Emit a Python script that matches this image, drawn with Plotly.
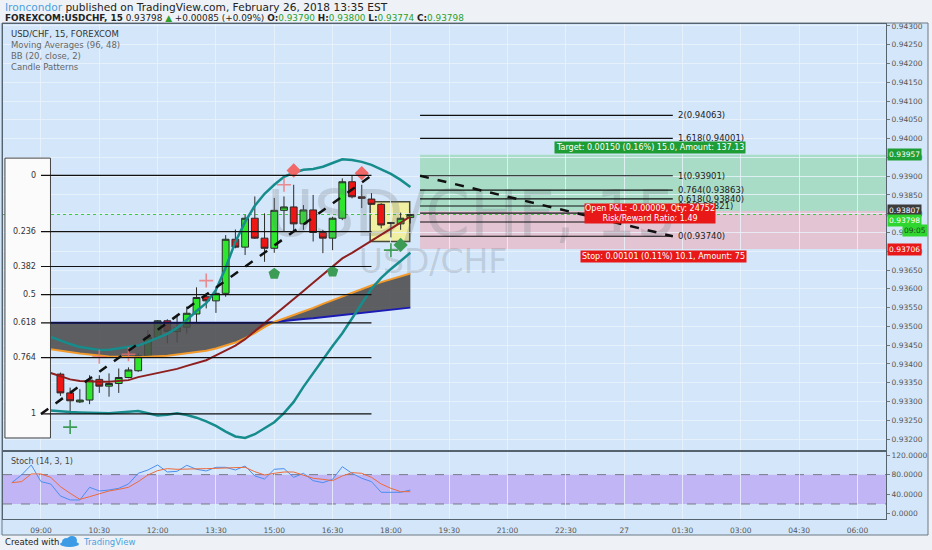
import plotly.graph_objects as go
import pandas as pd

# ---------------- data ----------------
candle_start = "2018-02-26 09:30"
open_ = [0.93373, 0.93323, 0.93299, 0.93304, 0.93359, 0.93341, 0.93348, 0.93364, 0.93382, 0.93422,
         0.93471, 0.93515, 0.93486, 0.93498, 0.93533, 0.93579, 0.93568, 0.93588, 0.93732, 0.93711,
         0.93788, 0.93735, 0.93708, 0.93809, 0.93818, 0.93773, 0.93810, 0.93750, 0.93735, 0.93788,
         0.93885, 0.93845, 0.93839, 0.93825, 0.93774, 0.93773, 0.93790]
high = [0.93377, 0.93337, 0.93333, 0.93370, 0.93370, 0.93375, 0.93388, 0.93391, 0.93429, 0.93490,
        0.93517, 0.93519, 0.93531, 0.93553, 0.93604, 0.93588, 0.93605, 0.93743, 0.93758, 0.93797,
        0.93846, 0.93801, 0.93842, 0.93846, 0.93877, 0.93823, 0.93850, 0.93757, 0.93792, 0.93894,
        0.93902, 0.93877, 0.93855, 0.93828, 0.93778, 0.93803, 0.93800]
low = [0.93315, 0.93267, 0.93296, 0.93293, 0.93323, 0.93313, 0.93323, 0.93362, 0.93379, 0.93419,
       0.93469, 0.93455, 0.93457, 0.93481, 0.93510, 0.93548, 0.93536, 0.93579, 0.93708, 0.93690,
       0.93733, 0.93672, 0.93696, 0.93752, 0.93752, 0.93757, 0.93726, 0.93695, 0.93703, 0.93783,
       0.93841, 0.93815, 0.93824, 0.93761, 0.93737, 0.93757, 0.93774]
close = [0.93323, 0.93302, 0.93304, 0.93357, 0.93341, 0.93348, 0.93364, 0.93384, 0.93422, 0.93471,
         0.93515, 0.93486, 0.93496, 0.93535, 0.93577, 0.93568, 0.93588, 0.93732, 0.93711, 0.93788,
         0.93735, 0.93708, 0.93809, 0.93818, 0.93773, 0.93810, 0.93750, 0.93735, 0.93788, 0.93885,
         0.93845, 0.93841, 0.93825, 0.93770, 0.93776, 0.93788, 0.93798]

line_start = "2018-02-26 09:15"
bb_upper = [0.93472, 0.93462, 0.93453, 0.93445, 0.93440, 0.93437, 0.93438, 0.93441, 0.93444, 0.93449,
            0.93459, 0.93469, 0.93480, 0.93496, 0.93517, 0.93541, 0.93562, 0.93597, 0.93656, 0.93725,
            0.93778, 0.93821, 0.93853, 0.93877, 0.93898, 0.93909, 0.93917, 0.93919, 0.93925, 0.93935,
            0.93945, 0.93943, 0.93938, 0.93930, 0.93919, 0.93906, 0.93890, 0.93871]
bb_basis = [0.93376, 0.93367, 0.93359, 0.93355, 0.93353, 0.93353, 0.93353, 0.93354, 0.93357, 0.93365,
            0.93370, 0.93376, 0.93381, 0.93387, 0.93395, 0.93402, 0.93410, 0.93423, 0.93436, 0.93449,
            0.93466, 0.93487, 0.93508, 0.93529, 0.93550, 0.93572, 0.93594, 0.93616, 0.93638, 0.93660,
            0.93681, 0.93696, 0.93712, 0.93728, 0.93743, 0.93758, 0.93776, 0.93793]
bb_lower = [0.93276, 0.93273, 0.93272, 0.93271, 0.93270, 0.93269, 0.93269, 0.93271, 0.93273, 0.93275,
            0.93269, 0.93263, 0.93265, 0.93269, 0.93264, 0.93257, 0.93247, 0.93235, 0.93220, 0.93207,
            0.93203, 0.93213, 0.93229, 0.93245, 0.93269, 0.93299, 0.93339, 0.93376, 0.93411, 0.93448,
            0.93482, 0.93522, 0.93562, 0.93600, 0.93629, 0.93653, 0.93674, 0.93696]
ma96 = [0.93510, 0.93510, 0.93510, 0.93510, 0.93510, 0.93510, 0.93510, 0.93510, 0.93509, 0.93509,
        0.93509, 0.93509, 0.93509, 0.93509, 0.93509, 0.93509, 0.93509, 0.93509, 0.93509, 0.93509,
        0.93509, 0.93509, 0.93510, 0.93512, 0.93515, 0.93517, 0.93520, 0.93522, 0.93525, 0.93528,
        0.93531, 0.93533, 0.93536, 0.93540, 0.93542, 0.93545, 0.93548, 0.93550]
ma48 = [0.93439, 0.93435, 0.93431, 0.93428, 0.93425, 0.93422, 0.93420, 0.93419, 0.93418, 0.93418,
        0.93419, 0.93420, 0.93422, 0.93425, 0.93428, 0.93431, 0.93435, 0.93441, 0.93449, 0.93457,
        0.93469, 0.93482, 0.93498, 0.93512, 0.93521, 0.93530, 0.93540, 0.93549, 0.93560, 0.93570,
        0.93581, 0.93590, 0.93600, 0.93609, 0.93618, 0.93625, 0.93633, 0.93641]

stoch_start = "2018-02-26 08:15"
stoch_k = [63.6, 79.3, 99.8, 65.7, 60.9, 36.4, 28.2, 28.2, 54.1, 46.6, 48.6, 52.0, 60.9, 82.7,
           89.5, 99.8, 85.4, 86.8, 99.1, 90.9, 87.5, 95.0, 95.0, 89.5, 97.7, 77.3, 71.1, 90.9,
           92.3, 74.5, 82.7, 67.7, 63.6, 70.4, 96.3, 82.7, 72.5, 65.7, 43.9, 43.9, 43.9, 48.6]
stoch_d = [63.6, 65.7, 81.4, 81.4, 74.5, 55.5, 41.8, 29.5, 35.0, 40.5, 46.6, 50.0, 54.1, 65.7,
           79.3, 88.2, 92.3, 90.9, 90.9, 92.3, 92.3, 92.9, 93.6, 93.6, 95.0, 86.1, 79.3, 82.7,
           85.4, 85.4, 79.3, 72.5, 70.4, 67.7, 77.3, 84.1, 82.7, 74.5, 60.9, 52.0, 45.2, 45.2]

# candle pattern markers
plus_green_t = ["2018-02-26 09:45", "2018-02-26 18:00"]
plus_green_p = [0.93232, 0.93703]
plus_red_t = ["2018-02-26 10:30", "2018-02-26 11:15", "2018-02-26 13:15", "2018-02-26 15:15"]
plus_red_p = [0.93419, 0.93426, 0.93622, 0.93877]
diamond_red_t = ["2018-02-26 15:30", "2018-02-26 17:15"]
diamond_red_p = [0.93915, 0.93908]
diamond_green_t = ["2018-02-26 18:15"]
diamond_green_p = [0.93717]
house_green_t = ["2018-02-26 15:00", "2018-02-26 16:30"]
house_green_p = [0.93640, 0.93646]

# fib retracement
fib_ret_levels = [0, 0.236, 0.382, 0.5, 0.618, 0.764, 1]
fib_ret_labels = ["0", "0.236", "0.382", "0.5", "0.618", "0.764", "1"]
fib_ret_p0 = 0.93902   # level 0
fib_ret_p1 = 0.93267   # level 1
fib_ret_t0, fib_ret_t1 = "2018-02-26 09:00", "2018-02-26 17:30"

# fib extension
fib_ext_levels = [0, 0.236, 0.382, 0.5, 0.618, 0.764, 1, 1.618, 2]
fib_ext_labels = ["0(0.93740)", "", "", "0.5(0.93821)", "0.618(0.93840)", "0.764(0.93863)",
                  "1(0.93901)", "1.618(0.94001)", "2(0.94063)"]
fib_ext_base, fib_ext_one = 0.93740, 0.93901
fib_ext_t0, fib_ext_t1 = "2018-02-26 18:45", "2018-02-27 01:15"

# long position
pos_t0 = "2018-02-26 18:45"
entry, target, stop = 0.93807, 0.93957, 0.93706
target_text = "Target: 0.00150 (0.16%) 15.0, Amount: 137.13"
pnl_text = "Open P&L: -0.00009, Qty: 24752<br>Risk/Reward Ratio: 1.49"
stop_text = "Stop: 0.00101 (0.11%) 10.1, Amount: 75"

# highlight box
box_t = ["2018-02-26 17:28", "2018-02-26 18:29"]
box_p = [0.93726, 0.93832]

# quote header
sym = "FOREXCOM:USDCHF, 15"
last, chg, chg_pct = "0.93798", "+0.00085", "+0.09%"
o_, h_, l_, c_ = "0.93790", "0.93800", "0.93774", "0.93798"

x_range = ["2018-02-26 08:01:24", "2018-02-27 06:44:00"]
tick_times = pd.date_range("2018-02-26 09:00", periods=15, freq="90min")
tick_text = ["09:00", "10:30", "12:00", "13:30", "15:00", "16:30", "18:00", "19:30",
             "21:00", "22:30", "27", "01:30", "03:00", "04:30", "06:00"]
price_ticks = [round(0.932 + 0.0005 * i, 5) for i in range(23)]
stoch_ticks = [0, 40, 80, 120]

# ---------------- layout helpers ----------------
W, H = 932, 550
ML, MR, MT, MB = 3, 46, 24, 31
PW, PH = W - ML - MR, H - MT - MB


def px(x):
    return (x - ML) / PW


def py(y):
    return (H - MB - y) / PH


ct = pd.date_range(candle_start, periods=len(open_), freq="15min")
lt = pd.date_range(line_start, periods=len(bb_basis), freq="15min")
st = pd.date_range(stoch_start, periods=len(stoch_k), freq="15min")

FONT = "DejaVu Sans"
BG = "#d4e7fa"
PAGE = "#eef2f6"
WM = "rgba(110,115,125,0.24)"

fig = go.Figure()

# watermark (as text traces, drawn first)
fig.add_trace(go.Scatter(x=["2018-02-26 20:05"], y=[0.93783], mode="text", text=["USD/CHF, 15"],
                         textfont=dict(family="DejaVu Sans", size=64, color=WM),
                         hoverinfo="skip", showlegend=False))
fig.add_trace(go.Scatter(x=["2018-02-26 19:05"], y=[0.93664], mode="text", text=["USD/CHF"],
                         textfont=dict(family="DejaVu Sans", size=33, color=WM),
                         hoverinfo="skip", showlegend=False))

# moving averages with fill
fig.add_trace(go.Scatter(x=lt, y=ma96, mode="lines", line=dict(color="#1a1ab4", width=2),
                         hoverinfo="skip", showlegend=False))
fig.add_trace(go.Scatter(x=lt, y=ma48, mode="lines", line=dict(color="#f39a2c", width=2),
                         fill="tonexty", fillcolor="rgba(75,75,75,0.88)", hoverinfo="skip", showlegend=False))
# bollinger
for arr, col, w in [(bb_upper, "#178c8c", 2.5), (bb_lower, "#178c8c", 2.5), (bb_basis, "#8e1f1f", 2)]:
    fig.add_trace(go.Scatter(x=lt, y=arr, mode="lines", line=dict(color=col, width=w),
                             hoverinfo="skip", showlegend=False))

fig.add_trace(go.Candlestick(x=ct, open=open_, high=high, low=low, close=close,
                             increasing=dict(line=dict(color="#2a2a2a", width=1), fillcolor="#2fe62f"),
                             decreasing=dict(line=dict(color="#2a2a2a", width=1), fillcolor="#ee1515"),
                             whiskerwidth=0, showlegend=False, hoverinfo="skip"))

# pattern markers
fig.add_trace(go.Scatter(x=plus_red_t, y=plus_red_p, mode="markers",
                         marker=dict(symbol="cross-thin", size=10, line=dict(color="rgba(240,110,110,0.75)", width=1.6)),
                         hoverinfo="skip", showlegend=False))
fig.add_trace(go.Scatter(x=plus_green_t, y=plus_green_p, mode="markers",
                         marker=dict(symbol="cross-thin", size=10, line=dict(color="#3c9c55", width=1.6)),
                         hoverinfo="skip", showlegend=False))
fig.add_trace(go.Scatter(x=diamond_red_t, y=diamond_red_p, mode="markers",
                         marker=dict(symbol="diamond", size=11, color="#f06868"),
                         hoverinfo="skip", showlegend=False))
fig.add_trace(go.Scatter(x=diamond_green_t, y=diamond_green_p, mode="markers",
                         marker=dict(symbol="diamond", size=11, color="#3c9c55"),
                         hoverinfo="skip", showlegend=False))
fig.add_trace(go.Scatter(x=house_green_t, y=house_green_p, mode="markers",
                         marker=dict(symbol="pentagon", size=12, color="#3c9c55"),
                         hoverinfo="skip", showlegend=False))

# stochastic
fig.add_trace(go.Scatter(x=st, y=stoch_k, mode="lines", line=dict(color="#4a8ef0", width=1),
                         xaxis="x2", yaxis="y2", hoverinfo="skip", showlegend=False))
fig.add_trace(go.Scatter(x=st, y=stoch_d, mode="lines", line=dict(color="#ee6a3a", width=1),
                         xaxis="x2", yaxis="y2", hoverinfo="skip", showlegend=False))

shapes = []
# page bands
shapes.append(dict(type="rect", xref="paper", yref="paper", x0=px(-5), x1=px(940), y0=py(23), y1=py(-5),
                   fillcolor=PAGE, line=dict(width=0), layer="below"))
shapes.append(dict(type="rect", xref="paper", yref="paper", x0=px(-5), x1=px(940), y0=py(560), y1=py(535),
                   fillcolor=PAGE, line=dict(width=0), layer="below"))
shapes.append(dict(type="rect", xref="paper", yref="paper", x0=px(928), x1=px(940), y0=py(560), y1=py(-5),
                   fillcolor=PAGE, line=dict(width=0), layer="below"))
shapes.append(dict(type="rect", xref="paper", yref="paper", x0=px(2), x1=px(928), y0=py(535), y1=py(23),
                   fillcolor="rgba(0,0,0,0)", line=dict(color="#6a7884", width=1), layer="below"))
# tradingview logo (simple cloud)
for cx0, cy0, cx1, cy1 in [(62, 538, 71, 546), (67, 536, 77, 545), (60, 541, 79, 547)]:
    shapes.append(dict(type="circle", xref="paper", yref="paper", x0=px(cx0), x1=px(cx1), y0=py(cy1), y1=py(cy0),
                       fillcolor="#3d9be6", line=dict(width=0), layer="below"))

# position tool
shapes.append(dict(type="rect", xref="x", yref="y", x0=pos_t0, x1=x_range[1], y0=entry, y1=target,
                   fillcolor="#a8dcc6", line=dict(width=0), layer="below"))
shapes.append(dict(type="rect", xref="x", yref="y", x0=pos_t0, x1=x_range[1], y0=stop, y1=entry,
                   fillcolor="#e3c4d3", line=dict(width=0), layer="below"))
# highlight box
shapes.append(dict(type="rect", xref="x", yref="y", x0=box_t[0], x1=box_t[1], y0=box_p[0], y1=box_p[1],
                   fillcolor="#f1efa2", line=dict(color="#4a4a3a", width=1.5), layer="below"))
# last price line
shapes.append(dict(type="line", xref="x", yref="y", x0=x_range[0], x1=x_range[1], y0=float(c_), y1=float(c_),
                   line=dict(color="#33cc33", width=1, dash="dot"), layer="below"))

# fib retracement box (covers the left part)
shapes.append(dict(type="rect", xref="x", yref="y", x0="2018-02-26 08:04:25", x1="2018-02-26 09:14:40",
                   y0=0.93203, y1=0.93948, fillcolor="#fbfbfb", line=dict(color="#444", width=1), layer="above"))
for lv in fib_ret_levels:
    p = fib_ret_p0 - lv * (fib_ret_p0 - fib_ret_p1)
    shapes.append(dict(type="line", xref="x", yref="y", x0=fib_ret_t0, x1=fib_ret_t1, y0=p, y1=p,
                       line=dict(color="#111", width=1.2), layer="above"))
shapes.append(dict(type="line", xref="x", yref="y", x0=fib_ret_t0, x1=fib_ret_t1, y0=fib_ret_p1, y1=fib_ret_p0,
                   line=dict(color="#111", width=2.5, dash="dash"), layer="above"))
# fib extension
for lv in fib_ext_levels:
    p = fib_ext_base + lv * (fib_ext_one - fib_ext_base)
    shapes.append(dict(type="line", xref="x", yref="y", x0=fib_ext_t0, x1=fib_ext_t1, y0=p, y1=p,
                       line=dict(color="#111", width=1.2), layer="above"))
shapes.append(dict(type="line", xref="x", yref="y", x0=fib_ext_t0, x1=fib_ext_t1, y0=fib_ext_one, y1=fib_ext_base,
                   line=dict(color="#111", width=2.5, dash="dash"), layer="above"))

# stoch band
shapes.append(dict(type="rect", xref="x2", yref="y2", x0=x_range[0], x1=x_range[1], y0=20, y1=80,
                   fillcolor="#c2b5f6", line=dict(width=0), layer="below"))
for v in (20, 80):
    shapes.append(dict(type="line", xref="x2", yref="y2", x0=x_range[0], x1=x_range[1], y0=v, y1=v,
                       line=dict(color="#7a7a8a", width=1, dash="dash"), layer="below"))

ann = []
# header
ann.append(dict(xref="paper", yref="paper", x=px(3), y=py(7), xanchor="left", yanchor="middle", showarrow=False,
                text="<span style='color:#4a9fe0'>Ironcondor</span> published on TradingView.com, February 26, 2018 13:35 EST",
                font=dict(family=FONT, size=10.6, color="#222")))
G = "#2ca02c"
ann.append(dict(xref="paper", yref="paper", x=px(3), y=py(18), xanchor="left", yanchor="middle", showarrow=False,
                text=(f"<b>{sym}</b> {last} <span style='color:{G}'>▲</span> {chg} ({chg_pct}) "
                      f"<b>O:</b><span style='color:{G}'>{o_}</span> <b>H:</b><span style='color:{G}'>{h_}</span> "
                      f"<b>L:</b><span style='color:{G}'>{l_}</span> <b>C:</b><span style='color:{G}'>{c_}</span>"),
                font=dict(family=FONT, size=8.9, color="#222")))
# chart legend
for i, (t, col) in enumerate([("USD/CHF, 15, FOREXCOM", "#333"), ("Moving Averages (96, 48)", "#666"),
                              ("BB (20, close, 2)", "#666"), ("Candle Patterns", "#666")]):
    ann.append(dict(xref="paper", yref="paper", x=px(9), y=py(34 + 11 * i), xanchor="left", yanchor="middle",
                    showarrow=False, text=t, font=dict(family=FONT, size=8.5, color=col)))
ann.append(dict(xref="paper", yref="paper", x=px(9), y=py(461), xanchor="left", yanchor="middle",
                showarrow=False, text="Stoch (14, 3, 1)", font=dict(family=FONT, size=8, color="#444")))
# footer
ann.append(dict(xref="paper", yref="paper", x=px(3), y=py(542), xanchor="left", yanchor="middle",
                showarrow=False, text="Created with", font=dict(family=FONT, size=8.5, color="#222")))
ann.append(dict(xref="paper", yref="paper", x=px(81), y=py(542), xanchor="left", yanchor="middle",
                showarrow=False, text="TradingView", font=dict(family=FONT, size=8.5, color="#4a9fe0")))

# fib retracement labels
for lv, lab in zip(fib_ret_levels, fib_ret_labels):
    p = fib_ret_p0 - lv * (fib_ret_p0 - fib_ret_p1)
    ann.append(dict(x=fib_ret_t0, y=p, xref="x", yref="y", xanchor="right", yanchor="middle", xshift=-3,
                    showarrow=False, text=lab, font=dict(family=FONT, size=8, color="#333")))
# fib extension labels
for lv, lab in zip(fib_ext_levels, fib_ext_labels):
    if not lab:
        continue
    p = fib_ext_base + lv * (fib_ext_one - fib_ext_base)
    ann.append(dict(x=fib_ext_t1, y=p, xref="x", yref="y", xanchor="left", yanchor="middle", xshift=3,
                    showarrow=False, text=lab, font=dict(family=FONT, size=8.5, color="#222")))
# position labels
ann.append(dict(x="2018-02-27 00:40", y=target, xref="x", yref="y", yanchor="bottom", yshift=1, showarrow=False,
                text=target_text, bgcolor="#1f9d35", borderpad=1, font=dict(family=FONT, size=8, color="white")))
ann.append(dict(x="2018-02-27 00:40", y=entry, xref="x", yref="y", yanchor="middle", yshift=-2, showarrow=False,
                text=pnl_text, bgcolor="#e81818", borderpad=0, font=dict(family=FONT, size=8, color="white")))
ann.append(dict(x="2018-02-27 01:00", y=stop, xref="x", yref="y", yanchor="top", yshift=-1, showarrow=False,
                text=stop_text, bgcolor="#e81818", borderpad=1, font=dict(family=FONT, size=8, color="white")))
# axis price labels
for val, bg, fc, ys in [(target, "#1f9d35", "white", 0), (entry, "#3c3c3c", "white", 1),
                        (float(c_), "#2fd62f", "white", -6), (stop, "#e81818", "white", 0)]:
    ann.append(dict(x=1, y=val, xref="paper", yref="y", xanchor="left", yanchor="middle", xshift=1, yshift=ys,
                    showarrow=False, text=f"{val:.5f}", bgcolor=bg, borderpad=1,
                    font=dict(family=FONT, size=7.5, color=fc)))
ann.append(dict(x=1, y=float(c_), xref="paper", yref="y", xanchor="left", yanchor="middle", xshift=16, yshift=-16,
                showarrow=False, text="09:05", bgcolor="#2fd62f", borderpad=1,
                font=dict(family=FONT, size=7.5, color="#224422")))

GRID = "rgba(235,244,253,0.8)"
AX = "#55636e"
fig.update_layout(
    width=W, height=H, margin=dict(l=ML, r=MR, t=MT, b=MB),
    paper_bgcolor=BG, plot_bgcolor="rgba(0,0,0,0)",
    showlegend=False, shapes=shapes, annotations=ann, boxgap=0.3, boxgroupgap=0,
    xaxis=dict(domain=[0, 1], anchor="y", range=x_range, tickvals=tick_times, showticklabels=False,
               showgrid=True, gridcolor=GRID, gridwidth=1, showline=True, mirror=True, linecolor=AX,
               rangeslider=dict(visible=False), zeroline=False),
    yaxis=dict(domain=[py(450), 1], anchor="x", side="right", range=[0.93171, 0.94305],
               tickvals=price_ticks, ticktext=[f"{v:.5f}" for v in price_ticks],
               tickfont=dict(family=FONT, size=7.5, color="#555"), ticks="outside", ticklen=3, tickcolor="#777",
               showgrid=True, gridcolor=GRID, showline=True, mirror=True, linecolor=AX, zeroline=False),
    xaxis2=dict(domain=[0, 1], anchor="y2", range=x_range, tickvals=tick_times, ticktext=tick_text,
                tickfont=dict(family=FONT, size=7.5, color="#555"), ticks="", ticklabelstandoff=4,
                showgrid=True, gridcolor=GRID, showline=True, mirror=True, linecolor=AX, zeroline=False),
    yaxis2=dict(domain=[0, py(452)], anchor="x2", side="right", range=[-10.7, 126.3],
                tickvals=stoch_ticks, ticktext=[f"{v:.4f}" for v in stoch_ticks],
                tickfont=dict(family=FONT, size=7.5, color="#555"), ticks="outside", ticklen=3, tickcolor="#777",
                showgrid=False, showline=True, mirror=True, linecolor=AX, zeroline=False),
)

fig.write_html("out.html", config={"displayModeBar": False},
               post_script="document.body.style.margin='0px';document.body.style.padding='0px';")
